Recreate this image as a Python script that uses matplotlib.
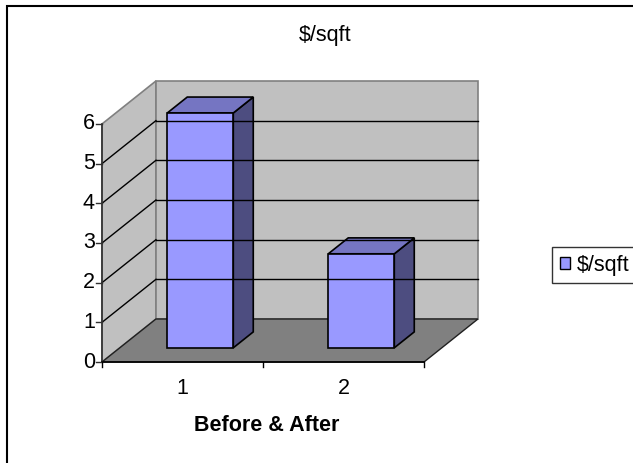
import matplotlib.pyplot as plt
from matplotlib.patches import Polygon, Rectangle, Patch

plt.rcParams['font.family'] = ['Liberation Sans', 'DejaVu Sans']

# data
categories = ['1', '2']
values = [5.92, 2.37]
y_ticks = [0, 1, 2, 3, 4, 5, 6]
series_name = '$/sqft'
x_title = 'Before & After'

# 3d-look geometry (in data units)
DX, DY = 0.335, 1.084      # wall depth offset
F0, F1 = 0.33, 0.70        # bar depth range as fraction of the floor
W = 0.41                   # bar width
YMAX = 6
FS = 15.5

FRONT = '#9999ff'
TOP = '#7575c2'
SIDE = '#4d4d80'

fig = plt.figure(figsize=(6.33, 4.63), dpi=100)
ax = fig.add_axes([0, 0, 1, 1])
ax.set_xlim(-102 / 161, (633 - 102) / 161)
ax.set_ylim(-101 / 39.67, 362 / 39.67)
ax.axis('off')

ncat = len(categories)

# walls and floor
left_wall = [(0, 0), (DX, DY), (DX, YMAX + DY), (0, YMAX)]
back_wall = [(DX, DY), (ncat + DX, DY), (ncat + DX, YMAX + DY), (DX, YMAX + DY)]
floor = [(0, 0), (ncat, 0), (ncat + DX, DY), (DX, DY)]
ax.add_patch(Polygon(left_wall, closed=True, fc='#c0c0c0', ec='#808080', lw=1.2))
ax.add_patch(Polygon(back_wall, closed=True, fc='#c0c0c0', ec='#808080', lw=1.2))
ax.add_patch(Polygon(floor, closed=True, fc='#808080', ec='#202020', lw=1.0))

# gridlines on the walls
for v in y_ticks[1:-1]:
    ax.plot([DX, ncat + DX], [v + DY, v + DY], color='black', lw=1.0)
    ax.plot([0, DX], [v, v + DY], color='black', lw=1.0)

# axes lines and ticks
ax.plot([0, 0], [0, YMAX], color='#303030', lw=1.2)
ax.plot([0, ncat], [0, 0], color='black', lw=1.2)
for v in y_ticks:
    ax.plot([-6 / 161, 0], [v, v], color='#303030', lw=1.0)
    ax.text(-7 / 161, v, str(v), ha='right', va='center', fontsize=FS)
for i in range(ncat + 1):
    ax.plot([i, i], [0, -5 / 39.67], color='black', lw=1.0)
for i, c in enumerate(categories):
    ax.text(i + 0.5, -0.66, c, ha='center', va='center', fontsize=FS)
ax.text(1.02, -1.61, x_title, ha='center', va='center', fontsize=FS, fontweight='bold')

# bars
bd = F1 - F0
for i, v in enumerate(values):
    x0 = i + 0.5 - W / 2 + F0 * DX
    y0 = F0 * DY
    ox, oy = bd * DX, bd * DY
    side = [(x0 + W, y0), (x0 + W + ox, y0 + oy), (x0 + W + ox, y0 + v + oy), (x0 + W, y0 + v)]
    top = [(x0, y0 + v), (x0 + W, y0 + v), (x0 + W + ox, y0 + v + oy), (x0 + ox, y0 + v + oy)]
    ax.add_patch(Polygon(side, closed=True, fc=SIDE, ec='black', lw=1.2, joinstyle='miter'))
    ax.add_patch(Polygon(top, closed=True, fc=TOP, ec='black', lw=1.2, joinstyle='miter'))
    ax.add_patch(Rectangle((x0, y0), W, v, fc=FRONT, ec='black', lw=1.2, joinstyle='miter'))

# title
fig.text(325 / 633, 1 - 35 / 463, series_name, ha='center', va='center', fontsize=FS)

# legend
leg = fig.legend(handles=[Patch(fc=FRONT, ec='black', lw=1.0, label=series_name)],
                 loc='center left', bbox_to_anchor=(552 / 633, 1 - 265 / 463),
                 fontsize=FS, frameon=True, fancybox=False, borderpad=0.35,
                 handlelength=0.5, handleheight=0.5, handletextpad=0.3,
                 borderaxespad=0)
leg.get_frame().set_edgecolor('black')
leg.get_frame().set_linewidth(1.0)

# chart border
fig.patches.append(Rectangle((7 / 633, -0.1), 1.2, 1 - 6 / 463 + 0.1,
                             transform=fig.transFigure, fill=False,
                             ec='black', lw=1.5))

fig.savefig('out.png', dpi=100)
